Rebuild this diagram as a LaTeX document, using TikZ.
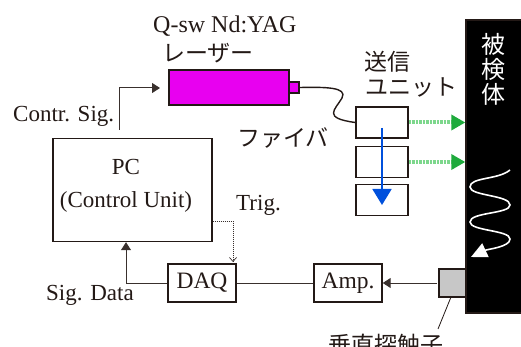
\documentclass[tikz,border=0pt]{standalone}
\usepackage{fontspec}
\setmainfont{Liberation Serif}
\newfontfamily\jpfont{Noto Sans CJK JP}
\usetikzlibrary{arrows.meta}
\definecolor{lascol}{RGB}{232,0,240}
\definecolor{grncol}{RGB}{30,170,60}
\definecolor{glwcol}{RGB}{125,215,140}
\definecolor{blucol}{RGB}{0,80,220}
\definecolor{lincol}{RGB}{35,25,22}
\begin{document}
\begin{tikzpicture}[x=1pt,y=-1pt,
    box/.style={draw=lincol, line width=1.4pt, inner sep=0pt, text=lincol, font=\fontsize{23.5}{25}\selectfont},
    lbl/.style={inner sep=0pt, anchor=west, text=lincol, font=\fontsize{23}{25}\selectfont},
    jlbl/.style={inner sep=0pt, anchor=west, text=lincol, font=\jpfont\fontsize{23}{25}\selectfont},
    sig/.style={line width=1pt, draw=lincol!90},
    green arrow/.style={line width=4pt, draw=glwcol, dash pattern=on 1pt off 0.4pt, -{Triangle[length=14pt,width=15pt,color=grncol]}}]
    \useasboundingbox (0,0) rectangle (521,347);
    % Nodos
    \node[box, minimum width=159pt, minimum height=103pt] (pc) at (132.5,190) {};
    \node[lbl, anchor=center, align=center, font=\fontsize{23}{33}\selectfont] (pctxt) at (126,186) {PC\\(Control Unit)};
    \node[box, minimum width=68pt, minimum height=38pt] (daq) at (202,283) {DAQ};
    \node[box, minimum width=68pt, minimum height=38pt] (amp) at (348,283) {Amp.};
    \node[box, fill=lascol, minimum width=120pt, minimum height=35pt] (las) at (229,87.5) {};
    \node[box, fill=lascol, minimum width=10pt, minimum height=11pt] (nub) at (294,87.5) {};
    \node[box, minimum width=52pt, minimum height=31pt] (u1) at (382,122.5) {};
    \node[box, minimum width=52pt, minimum height=31pt] (u2) at (382,162) {};
    \node[box, minimum width=52pt, minimum height=31pt] (u3) at (382,200) {};
    \node[box, fill=black, minimum width=56pt, minimum height=293pt] (spe) at (494,166.5) {};
    \node[box, fill=black!22, minimum width=27pt, minimum height=28pt] (pro) at (452.5,283) {};
    \node[jlbl, text=white, align=center, anchor=center, font=\jpfont\fontsize{24}{25}\selectfont] (spetxt) at (493,69) {被\\検\\体};

    % Textos
    \node[lbl, font=\fontsize{24}{25}\selectfont] (qsw) at (153,26) {Q-sw Nd:YAG};
    \node[jlbl] (lastxt) at (162,53) {レーザー};
    \node[jlbl] (sou) at (364,62) {送信};
    \node[jlbl] (uni) at (365,87) {ユニット};
    \node[jlbl] (fib) at (237,138) {ファイバ};
    \node[lbl] (con) at (13,116) {Contr. Sig.};
    \node[lbl] (tri) at (236,205) {Trig.};
    \node[lbl] (dat) at (46,295) {Sig. Data};
    \node[jlbl] (tan) at (328,345) {垂直探触子};
    \coordinate (cs) at (119.5,130);
    \coordinate (cs2) at (160,88);
    \coordinate (pr) at (437,283);
    \coordinate (tip) at (451,297);
    \coordinate (lead) at (438,329);

    % Aristas
    \draw[sig, -{Triangle[length=8pt,width=10pt]}] (cs) |- (cs2);
    \draw[sig, -{Triangle[length=8pt,width=10pt]}] (daq.west) -| (pctxt.south |- pc.south);
    \draw[sig, densely dotted, line width=0.7pt, -{Straight Barb[length=4pt,width=7pt]}] (pc.east |- 0,221) -| (233,262);
    \draw[sig] (daq) -- (amp);
    \draw[sig, -{Triangle[length=8pt,width=10pt]}] (pr) -- (amp.east);
    \draw[line width=0.8pt, lincol] (tip) -- (lead);
    \draw[line width=1.4pt, lincol] (nub.east) .. controls (325,87) and (348,87) .. (342,98) .. controls (335,110) and (322,118) .. (u1.west);
    \draw[green arrow] (u1.east) -- (spe.west |- u1);
    \draw[green arrow] (u2.east) -- (spe.west |- u2);
    \draw[line width=1.8pt, draw=blucol, -{Triangle[length=16pt,width=19pt]}] (382,128) -- (382,205);
    \draw[white, line width=1.6pt, -{Triangle[length=16pt,width=15pt]}] (510,170) .. controls (498,180) and (470,177) .. (470,187) .. controls (470,196) and (510,195) .. (510,205) .. controls (510,214) and (470,212) .. (470,222) .. controls (470,231) and (510,230) .. (510,239) .. controls (510,247) and (488,249) .. (471,257);
\end{tikzpicture}
\end{document}
